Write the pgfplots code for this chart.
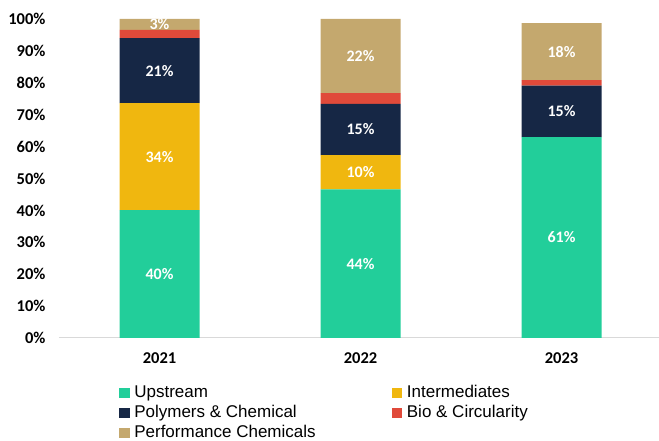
\documentclass[border=0pt]{standalone}
\usepackage{pgfplots}
\pgfplotsset{compat=1.18}
\usepackage{fontspec}
\setmainfont{Liberation Sans}
\newfontfamily\calib{Carlito}

\definecolor{upstream}{HTML}{22CE9A}
\definecolor{interm}{HTML}{F0B70F}
\definecolor{polym}{HTML}{162745}
\definecolor{bio}{HTML}{E04A3A}
\definecolor{perf}{HTML}{C4A86E}

\pgfplotsset{
  frame/.style={
    scale only axis, width=600pt, height=319pt,
    xmin=-0.5, xmax=2.485, ymin=0, ymax=100,
  },
}

\begin{document}
\begin{tikzpicture}
\begin{axis}[
  frame,
  ybar stacked, bar width=80pt,
  axis lines*=left,
  y axis line style={draw=none},
  x axis line style={draw=black!15, line width=1pt},
  major tick length=0pt,
  xtick={0,1,2}, xticklabels={2021,2022,2023},
  ytick={0,10,...,100},
  yticklabels={0\%,10\%,20\%,30\%,40\%,50\%,60\%,70\%,80\%,90\%,100\%},
  ticklabel style={font=\calib\bfseries\fontsize{16.5}{19}\selectfont},
  yticklabel style={xshift=-10pt},
  xticklabel style={yshift=-11pt},
  legend columns=2,
  legend style={
    at={(0.1,-0.143)}, anchor=north west, draw=none,
    font=\fontsize{17}{20}\selectfont, inner sep=0pt, row sep=2pt,
    nodes={inner sep=0.5pt, text height=13pt, text depth=4pt},
    /tikz/every odd column/.append style={column sep=4pt},
  },
  legend cell align=left,
  legend image code/.code={\fill[#1,draw=none] (0pt,-5.3pt) rectangle (10.6pt,5.3pt);},
]
% Upstream, Intermediates, Polymers, Bio, Performance (share in %)
\addplot[fill=upstream, draw=none] coordinates {(0,40.1) (1,46.6) (2,63.0)};
\addlegendentry{\makebox[257pt][l]{Upstream}}
\addplot[fill=interm, draw=none] coordinates {(0,33.5) (1,10.7) (2,0)};
\addlegendentry{Intermediates}
\addplot[fill=polym, draw=none] coordinates {(0,20.4) (1,16.1) (2,16.1)};
\addlegendentry{\makebox[257pt][l]{Polymers \& Chemical}}
\addplot[fill=bio, draw=none] coordinates {(0,2.6) (1,3.4) (2,1.7)};
\addlegendentry{Bio \& Circularity}
\addplot[fill=perf, draw=none] coordinates {(0,3.4) (1,23.2) (2,17.9)};
\addlegendentry{Performance Chemicals}
\end{axis}

% labels in the middle of each segment
\begin{axis}[
  frame, hide axis,
  nodes near coords, point meta=explicit symbolic,
  nodes near coords style={font=\calib\bfseries\fontsize{16}{19}\selectfont,
    text=white, anchor=center},
]
\addplot[draw=none] coordinates {
  (0,20.05)[40\%] (0,56.85)[34\%] (0,83.8)[21\%] (0,98.4)[3\%]
  (1,23.3)[44\%] (1,52.0)[10\%] (1,65.35)[15\%] (1,88.4)[22\%]
  (2,31.5)[61\%] (2,71.05)[15\%] (2,89.75)[18\%]
};
\end{axis}

\pgfresetboundingbox
\path (current axis.south west) ++(-59pt,-103pt) rectangle ++(659pt,441pt);
\end{tikzpicture}
\end{document}
